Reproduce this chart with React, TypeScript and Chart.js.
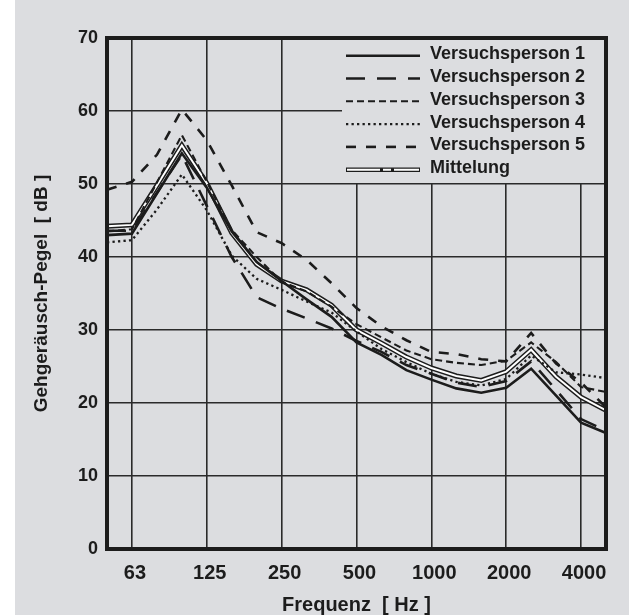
import React, { useEffect, useRef } from 'react';
import { Chart, registerables } from 'chart.js';

Chart.register(...registerables);

// third-octave band centre frequencies (Hz)
const bands = [50, 63, 80, 100, 125, 160, 200, 250, 315, 400, 500, 630, 800, 1000, 1250, 1600, 2000, 2500, 3150, 4000, 5000];
const xTickLabels = [63, 125, 250, 500, 1000, 2000, 4000];
const yTicks = [0, 10, 20, 30, 40, 50, 60, 70];

const vp1 = [43.0, 43.2, 48.7, 54.2, 49.5, 43.5, 39.3, 36.7, 34.2, 31.8, 28.3, 26.6, 24.5, 23.2, 22.0, 21.4, 22.1, 24.7, 21.0, 17.3, 15.9];
const vp2 = [43.6, 43.6, 48.8, 54.0, 47.0, 40.0, 34.5, 32.9, 31.6, 30.2, 28.5, 27.0, 25.2, 24.0, 22.8, 22.2, 23.0, 25.7, 21.8, 17.8, 16.2];
const vp3 = [43.5, 43.8, 50.2, 56.7, 50.3, 43.7, 40.0, 36.6, 35.3, 33.2, 30.8, 29.0, 27.2, 26.0, 25.5, 25.2, 25.8, 28.3, 25.6, 22.2, 21.5];
const vp4 = [42.0, 42.3, 46.5, 51.3, 46.4, 40.2, 37.0, 35.5, 33.9, 32.4, 29.8, 27.4, 25.6, 24.0, 22.9, 22.4, 23.3, 26.5, 24.2, 23.9, 23.4];
const vp5 = [49.2, 50.3, 54.0, 60.2, 56.0, 49.8, 43.4, 41.9, 39.6, 36.4, 33.0, 30.5, 28.6, 27.0, 26.7, 26.0, 25.7, 29.6, 25.4, 22.8, 19.4];
const mean = [44.2, 44.4, 49.8, 55.3, 50.1, 43.3, 39.0, 36.7, 35.5, 33.4, 30.0, 28.2, 26.3, 24.8, 23.7, 23.1, 24.3, 27.3, 23.6, 20.8, 19.0];

const seriesNames = ['Versuchsperson 1', 'Versuchsperson 2', 'Versuchsperson 3', 'Versuchsperson 4', 'Versuchsperson 5', 'Mittelung'];

const FONT = '"Liberation Sans", Arial, Helvetica, sans-serif';
const GRAY = '#dcdde0';
const INK = '#1c1c1c';
const GRID = '#2a2a2a';

const lineStyles = [
  { width: 2.6, dash: [] as number[] },
  { width: 2.6, dash: [19, 12] },
  { width: 2.1, dash: [7, 4] },
  { width: 2.3, dash: [2.3, 3.2] },
  { width: 2.6, dash: [10, 10] },
];

const bgPlugin = {
  id: 'bg',
  beforeDraw(chart: any) {
    const { ctx, width, height } = chart;
    ctx.save();
    ctx.fillStyle = '#ffffff';
    ctx.fillRect(0, 0, width, height);
    ctx.fillStyle = GRAY;
    ctx.fillRect(15, 0, width - 15, height);
    ctx.restore();
  },
};

const legendFramePlugin = {
  id: 'legendFrame',
  afterDatasetsDraw(chart: any) {
    const { ctx, chartArea: a } = chart;
    const boxW = 264;
    const boxH = 145;
    const x0 = a.right - boxW;
    const y0 = a.top;
    ctx.save();
    ctx.fillStyle = GRAY;
    ctx.fillRect(x0, y0, boxW, boxH);

    const rowH = 22.8;
    const firstCap = y0 + 14.7;
    const lx0 = x0 + 4;
    const lx1 = x0 + 78;
    const tx = x0 + 88;
    ctx.font = `bold 18px ${FONT}`;
    ctx.textAlign = 'left';
    ctx.textBaseline = 'alphabetic';
    seriesNames.forEach((name, i) => {
      const cy = firstCap + i * rowH;
      const ly = cy + 3;
      ctx.lineCap = 'butt';
      if (i < 5) {
        const st = lineStyles[i];
        ctx.strokeStyle = INK;
        ctx.lineWidth = st.width;
        ctx.setLineDash(st.dash);
        ctx.beginPath();
        ctx.moveTo(lx0, ly);
        ctx.lineTo(lx1, ly);
        ctx.stroke();
      } else {
        ctx.setLineDash([]);
        ctx.strokeStyle = INK;
        ctx.lineWidth = 4.5;
        ctx.beginPath();
        ctx.moveTo(lx0, ly);
        ctx.lineTo(lx1, ly);
        ctx.stroke();
        ctx.strokeStyle = '#ffffff';
        ctx.lineWidth = 2;
        ctx.beginPath();
        ctx.moveTo(lx0 + 1, ly);
        ctx.lineTo(lx1 - 1, ly);
        ctx.stroke();
        ctx.fillStyle = INK;
        ctx.fillRect(lx0 + 34, ly - 1.5, 3, 3);
        ctx.fillRect(lx0 + 45, ly - 1.5, 3, 3);
      }
      ctx.setLineDash([]);
      ctx.fillStyle = INK;
      ctx.fillText(name, tx, cy + 6.4);
    });

    ctx.strokeStyle = INK;
    ctx.lineWidth = 4;
    ctx.setLineDash([]);
    ctx.strokeRect(a.left, a.top, a.right - a.left, a.bottom - a.top);
    ctx.restore();
  },
};

export default function App() {
  const canvasRef = useRef<HTMLCanvasElement | null>(null);

  useEffect(() => {
    const canvas = canvasRef.current;
    if (!canvas) return;
    const vpData = [vp1, vp2, vp3, vp4, vp5];
    const datasets: any[] = vpData.map((d, i) => ({
      label: seriesNames[i],
      data: d,
      borderColor: INK,
      borderWidth: lineStyles[i].width,
      borderDash: lineStyles[i].dash,
      borderCapStyle: 'butt',
      borderJoinStyle: 'miter',
      pointRadius: 0,
      fill: false,
      tension: 0,
      order: i + 1,
    }));
    datasets.push({
      label: seriesNames[5],
      data: mean,
      borderColor: '#ffffff',
      borderWidth: 2,
      borderJoinStyle: 'miter',
      pointRadius: 0,
      fill: false,
      tension: 0,
      order: 10,
    });
    datasets.push({
      label: seriesNames[5] + ' outline',
      data: mean,
      borderColor: INK,
      borderWidth: 5,
      borderJoinStyle: 'miter',
      pointRadius: 0,
      fill: false,
      tension: 0,
      order: 11,
    });

    const chart = new Chart(canvas, {
      type: 'line',
      data: { labels: bands.map(String), datasets },
      options: {
        responsive: false,
        animation: false,
        devicePixelRatio: 1,
        layout: { padding: { left: 0, right: 23, top: 38, bottom: 0 } },
        plugins: { legend: { display: false }, tooltip: { enabled: false } },
        scales: {
          x: {
            type: 'category',
            offset: false,
            border: { display: false },
            grid: {
              drawTicks: false,
              lineWidth: 1.6,
              color: (c: any) => {
                const idx = c.tick ? c.tick.value : c.index;
                return xTickLabels.includes(bands[idx]) ? GRID : 'rgba(0,0,0,0)';
              },
            },
            ticks: {
              autoSkip: false,
              maxRotation: 0,
              minRotation: 0,
              padding: 12,
              labelOffset: 3,
              color: INK,
              font: { family: FONT, size: 20, weight: 'bold' },
              callback: (_v: any, i: number) => (xTickLabels.includes(bands[i]) ? String(bands[i]) : ''),
            },
            title: {
              display: true,
              text: 'Frequenz  [ Hz ]',
              color: INK,
              padding: 0,
              font: { family: FONT, size: 20, weight: 'bold', lineHeight: 1 },
            },
            afterFit: (s: any) => { s.height = 66; },
          },
          y: {
            min: 0,
            max: 70,
            border: { display: false },
            grid: { drawTicks: false, lineWidth: 1.6, color: GRID },
            afterBuildTicks: (s: any) => { s.ticks = yTicks.map((v) => ({ value: v })); },
            ticks: {
              padding: 9,
              color: INK,
              font: { family: FONT, size: 18, weight: 'bold' },
            },
            title: {
              display: true,
              text: 'Gehgeräusch-Pegel  [ dB ]',
              color: INK,
              padding: { top: 32.5, bottom: 0 },
              font: { family: FONT, size: 19, weight: 'bold', lineHeight: 1 },
            },
            afterFit: (s: any) => { s.width = 107; },
          },
        },
      } as any,
      plugins: [bgPlugin, legendFramePlugin],
    });
    return () => chart.destroy();
  }, []);

  return (
    <div style={{ position: 'absolute', left: 0, top: 0, width: 629, height: 615 }}>
      <canvas ref={canvasRef} width={629} height={615} style={{ display: 'block' }} />
    </div>
  );
}
